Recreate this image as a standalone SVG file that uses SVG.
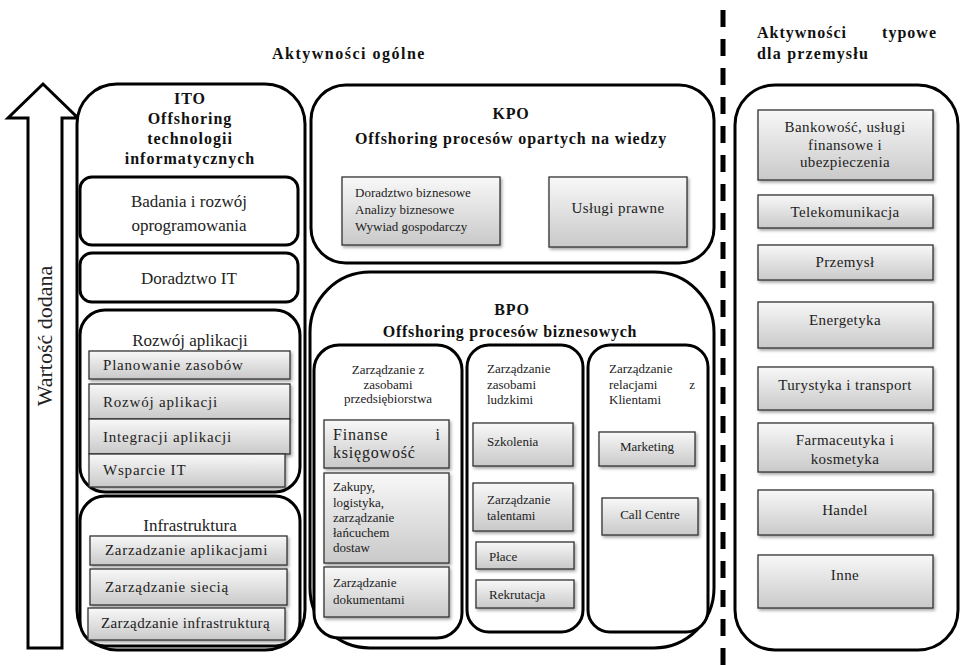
<svg xmlns="http://www.w3.org/2000/svg" width="962" height="665" viewBox="0 0 962 665" font-family="'Liberation Serif', 'DejaVu Serif', serif">
<defs>
<linearGradient id="g" x1="0" y1="0" x2="0" y2="1">
<stop offset="0" stop-color="#f8f8f8"/>
<stop offset="1" stop-color="#c9c9c9"/>
</linearGradient>
<filter id="sh" x="-10%" y="-10%" width="130%" height="140%">
<feDropShadow dx="1.5" dy="2" stdDeviation="1.5" flood-color="#000" flood-opacity="0.35"/>
</filter>
</defs>
<style>
text{fill:#222}
.b{font-weight:bold;font-size:16px;fill:#111}
.big{stroke:#000;stroke-width:3;fill:#fff}
.gb{fill:url(#g);stroke:#333;stroke-width:1.3;filter:url(#sh)}
.t17{font-size:17px}
.t15{font-size:15px}
.t12{font-size:13px}
.c{text-anchor:middle}
.e{text-anchor:end}
</style>
<rect width="962" height="665" fill="#fff"/>

<g id="connectors">
<line x1="723" y1="10" x2="723" y2="665" stroke="#000" stroke-width="5" stroke-dasharray="17 12"/>
</g>

<g id="titles">
<text class="b c" x="349" y="59" style="letter-spacing:1.5px">Aktywności ogólne</text>
<text class="b" x="757" y="38" style="letter-spacing:1px">Aktywności</text>
<text class="b e" x="937" y="38" style="letter-spacing:1px">typowe</text>
<text class="b" x="757" y="59" style="letter-spacing:1.2px">dla przemysłu</text>
</g>

<g id="arrow">
<polygon points="43,84 78,118 62,118 62,648 28,648 28,118 8,118" fill="#fff" stroke="#000" stroke-width="3" stroke-linejoin="miter"/>
<text x="0" y="0" transform="translate(52,336) rotate(-90)" class="c" style="font-size:22px">Wartość dodana</text>
</g>

<g id="ito">
<rect class="big" x="77" y="84" width="228" height="566" rx="40"/>
<text class="b c" x="190" y="104" style="letter-spacing:1px">ITO</text>
<text class="b c" x="190" y="124" style="letter-spacing:1px">Offshoring</text>
<text class="b c" x="190" y="144" style="letter-spacing:1px">technologii</text>
<text class="b c" x="190" y="164" style="letter-spacing:1px">informatycznych</text>
</g>

<g id="badania">
<rect class="big" x="80" y="177" width="218" height="68" rx="12"/>
<text class="t17 c" x="189" y="207">Badania i rozwój</text>
<text class="t17 c" x="189" y="231">oprogramowania</text>
</g>

<g id="doradztwo-it">
<rect class="big" x="80" y="253" width="218" height="49" rx="12"/>
<text class="t17 c" x="189" y="284">Doradztwo IT</text>
</g>

<g id="rozwoj">
<rect class="big" x="80" y="310" width="220" height="182" rx="25"/>
<text class="t17 c" x="190" y="346">Rozwój aplikacji</text>
<rect class="gb" x="89" y="351" width="201" height="28"/>
<text class="t15" x="103" y="370" style="letter-spacing:0.8px">Planowanie zasobów</text>
<rect class="gb" x="89" y="384" width="201" height="35"/>
<text class="t15" x="103" y="407" style="letter-spacing:0.8px">Rozwój aplikacji</text>
<rect class="gb" x="89" y="419" width="201" height="35"/>
<text class="t15" x="103" y="442" style="letter-spacing:0.8px">Integracji aplikacji</text>
<rect class="gb" x="89" y="454" width="196" height="33"/>
<text class="t15" x="103" y="475" style="letter-spacing:0.8px">Wsparcie IT</text>
</g>

<g id="infrastruktura">
<rect class="big" x="80" y="496" width="220" height="150" rx="25"/>
<text class="t17 c" x="190" y="531">Infrastruktura</text>
<rect class="gb" x="90" y="536" width="197" height="29"/>
<text class="t15" x="105" y="555" style="letter-spacing:0.7px">Zarzadzanie aplikacjami</text>
<rect class="gb" x="90" y="569" width="197" height="36"/>
<text class="t15" x="105" y="592" style="letter-spacing:0.7px">Zarządzanie siecią</text>
<rect class="gb" x="88" y="608" width="197" height="32"/>
<text class="t15" x="101" y="628" style="letter-spacing:0.4px">Zarządzanie infrastrukturą</text>
</g>

<g id="kpo">
<rect class="big" x="311" y="85" width="403" height="178" rx="35"/>
<text class="b c" x="511" y="119" style="letter-spacing:0.8px">KPO</text>
<text class="b c" x="511" y="144" style="letter-spacing:0.85px">Offshoring procesów opartych na wiedzy</text>
<rect class="gb" x="342" y="177" width="158" height="68"/>
<text class="t12" x="355" y="197">Doradztwo biznesowe</text>
<text class="t12" x="355" y="214">Analizy biznesowe</text>
<text class="t12" x="355" y="231">Wywiad gospodarczy</text>
<rect class="gb" x="549" y="177" width="138" height="70"/>
<text class="t15 c" x="618" y="213" style="letter-spacing:0.4px">Usługi prawne</text>
</g>

<g id="bpo">
<rect class="big" x="310" y="272" width="404" height="376" rx="60"/>
<text class="b c" x="512" y="315" style="letter-spacing:0.8px">BPO</text>
<text class="b c" x="510" y="337" style="letter-spacing:0.7px">Offshoring procesów biznesowych</text>
</g>

<g id="erp">
<rect class="big" x="314" y="345" width="148" height="293" rx="25"/>
<text class="t12 c" x="388" y="374">Zarządzanie z</text>
<text class="t12 c" x="388" y="389">zasobami</text>
<text class="t12 c" x="388" y="403">przedsiębiorstwa</text>
<rect class="gb" x="324" y="420" width="125" height="48"/>
<text x="333" y="440" style="font-size:16px;letter-spacing:0.8px">Finanse</text>
<text class="e" x="440" y="440" style="font-size:16px">i</text>
<text x="333" y="458" style="font-size:16px;letter-spacing:0.8px">księgowość</text>
<rect class="gb" x="324" y="473" width="125" height="90"/>
<text class="t12" x="333" y="491">Zakupy,</text>
<text class="t12" x="333" y="507">logistyka,</text>
<text class="t12" x="333" y="522">zarządzanie</text>
<text class="t12" x="333" y="537">łańcuchem</text>
<text class="t12" x="333" y="552">dostaw</text>
<rect class="gb" x="324" y="567" width="125" height="50"/>
<text class="t12" x="333" y="587">Zarządzanie</text>
<text class="t12" x="333" y="604">dokumentami</text>
</g>

<g id="hr">
<rect class="big" x="467" y="345" width="116" height="287" rx="22"/>
<text class="t12" x="487" y="373">Zarządzanie</text>
<text class="t12" x="487" y="389">zasobami</text>
<text class="t12" x="487" y="404">ludzkimi</text>
<rect class="gb" x="473" y="423" width="100" height="43"/>
<text class="t12" x="487" y="446">Szkolenia</text>
<rect class="gb" x="473" y="483" width="100" height="48"/>
<text class="t12" x="487" y="504">Zarządzanie</text>
<text class="t12" x="487" y="520">talentami</text>
<rect class="gb" x="476" y="542" width="98" height="27"/>
<text class="t12" x="489" y="561">Płace</text>
<rect class="gb" x="476" y="580" width="98" height="28"/>
<text class="t12" x="489" y="599">Rekrutacja</text>
</g>

<g id="crm">
<rect class="big" x="588" y="345" width="120" height="287" rx="22"/>
<text class="t12" x="609" y="373">Zarządzanie</text>
<text class="t12" x="609" y="389">relacjami</text>
<text class="t12 e" x="695" y="389">z</text>
<text class="t12" x="609" y="404">Klientami</text>
<rect class="gb" x="599" y="432" width="96" height="34"/>
<text class="t12 c" x="647" y="451">Marketing</text>
<rect class="gb" x="602" y="498" width="96" height="37"/>
<text class="t12 c" x="650" y="519">Call Centre</text>
</g>

<g id="industry">
<rect class="big" x="735" y="85" width="223" height="565" rx="40"/>
<rect class="gb" x="758" y="110" width="175" height="70"/>
<text class="t15 c" x="845" y="132" style="letter-spacing:0.4px">Bankowość, usługi</text>
<text class="t15 c" x="845" y="150" style="letter-spacing:0.4px">finansowe i</text>
<text class="t15 c" x="845" y="167" style="letter-spacing:0.4px">ubezpieczenia</text>
<rect class="gb" x="758" y="195" width="175" height="33"/>
<text class="t15 c" x="845" y="217" style="letter-spacing:0.4px">Telekomunikacja</text>
<rect class="gb" x="758" y="245" width="175" height="35"/>
<text class="t15 c" x="845" y="267" style="letter-spacing:0.4px">Przemysł</text>
<rect class="gb" x="758" y="302" width="175" height="46"/>
<text class="t15 c" x="845" y="325" style="letter-spacing:0.4px">Energetyka</text>
<rect class="gb" x="758" y="367" width="175" height="43"/>
<text class="t15 c" x="845" y="390" style="letter-spacing:0.4px">Turystyka i transport</text>
<rect class="gb" x="758" y="423" width="175" height="49"/>
<text class="t15 c" x="845" y="445" style="letter-spacing:0.4px">Farmaceutyka i</text>
<text class="t15 c" x="845" y="464" style="letter-spacing:0.4px">kosmetyka</text>
<rect class="gb" x="758" y="490" width="175" height="45"/>
<text class="t15 c" x="845" y="515" style="letter-spacing:0.4px">Handel</text>
<rect class="gb" x="758" y="555" width="175" height="53"/>
<text class="t15 c" x="845" y="580" style="letter-spacing:0.4px">Inne</text>
</g>
</svg>
